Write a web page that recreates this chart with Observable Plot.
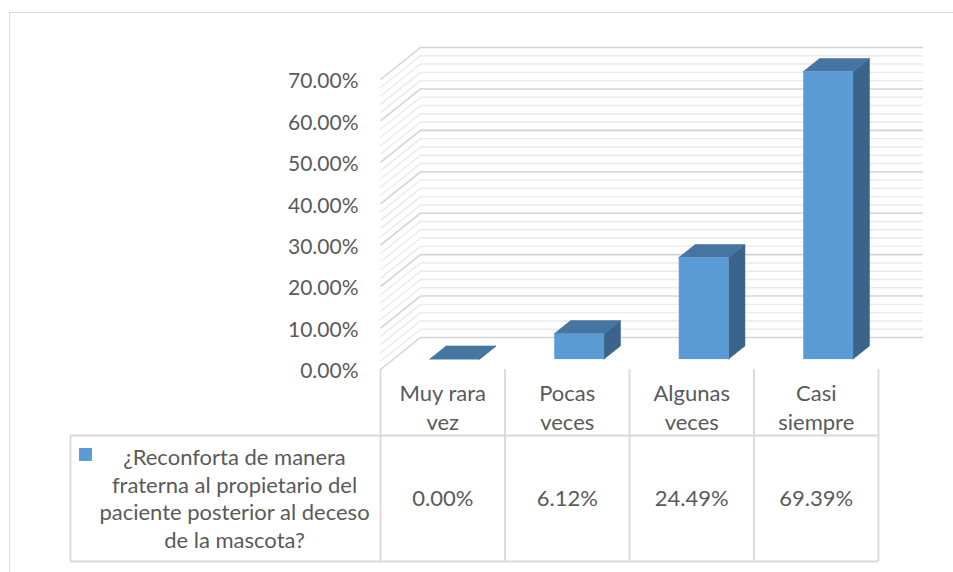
<!DOCTYPE html>
<html><head><meta charset="utf-8">
<script src="https://cdn.jsdelivr.net/npm/d3@7"></script>
<script src="https://cdn.jsdelivr.net/npm/@observablehq/plot@0.6"></script>
<style>
html,body{margin:0;padding:0;background:#fff;}
#wrap{position:relative;width:953px;height:572px;overflow:hidden;}
#frame{position:absolute;left:9px;top:12px;right:-5px;bottom:-5px;border-left:1.5px solid #d9d9d9;border-top:1.5px solid #d9d9d9;pointer-events:none;}
#wrap svg{position:absolute;left:0;top:0;}
</style></head><body>
<div id="wrap"><div id="frame"></div></div>
<script>
// ---- data ----
const categories = ["Muy rara\nvez", "Pocas\nveces", "Algunas\nveces", "Casi\nsiempre"];
const values = [0.00, 6.12, 24.49, 69.39];
const yTicks = [0, 10, 20, 30, 40, 50, 60, 70];
const seriesName = "¿Reconforta de manera\nfraterna al propietario del\npaciente posterior al deceso\nde la mascota?";

// ---- layout (styles) ----
const W = 953, H = 572;
const left = 380, right = 878, y0 = 369, yTop = 79;
const PX = (right - left) / 4;        // px per category unit
const PY = (y0 - yTop) / 70;          // px per percent
const DX = 40 / PX, DY = 32 / PY;     // wall depth in data units
const fb = 0.31, bb = 0.72;           // bar front/back depth fractions
const BW = 0.2;                        // half bar width (category units)
const font = "Lato, sans-serif";
const txt = "#5a5a5a";

const minor = d3.range(0, 70.001, 2).filter(v => v % 10 !== 0);
const major = yTicks;
const xEnd = 3.5 + 5 / PX;
const XL = -0.5 - 310 / PX;            // table left edge
const rowTop = -(435 - y0) / PY, rowBot = -(561 - y0) / PY;

const sideData = values.flatMap((v, i) => [
  {i, x: i + BW + fb * DX, y1: fb * DY, y2: v + fb * DY},
  {i, x: i + BW + bb * DX, y1: bb * DY, y2: v + bb * DY}
]);
const topData = values.flatMap((v, i) => [
  {i, y: v + fb * DY, x1: i - BW + fb * DX, x2: i + BW + fb * DX},
  {i, y: v + bb * DY, x1: i - BW + bb * DX, x2: i + BW + bb * DX}
]);

const chart = Plot.plot({
  width: W, height: H,
  marginLeft: left, marginRight: W - right, marginTop: yTop, marginBottom: H - y0,
  x: {domain: [-0.5, 3.5], axis: null},
  y: {domain: [0, 70]},
  style: {fontFamily: font, fontSize: "22px", color: txt, background: "transparent", overflow: "visible"},
  marks: [
    // back wall + side wall gridlines
    Plot.ruleY(minor, {y: d => d + DY, x1: () => -0.5 + DX, x2: () => xEnd + DX, stroke: "#eaeaea", strokeWidth: 1.4}),
    Plot.link(minor, {x1: () => -0.5, y1: d => d, x2: () => -0.5 + DX, y2: d => d + DY, stroke: "#eaeaea", strokeWidth: 1.4}),
    Plot.ruleY(major, {y: d => d + DY, x1: () => -0.5 + DX, x2: () => xEnd + DX, stroke: "#d4d4d4", strokeWidth: 1.6}),
    Plot.link(major, {x1: () => -0.5, y1: d => d, x2: () => -0.5 + DX, y2: d => d + DY, stroke: "#d4d4d4", strokeWidth: 1.6}),
    // data table grid
    Plot.ruleX([-0.5, 0.5, 1.5, 2.5, 3.5], {y1: () => 0, y2: () => rowBot, stroke: "#d9d9d9", strokeWidth: 1.8}),
    Plot.ruleX([XL], {y1: () => rowTop, y2: () => rowBot, stroke: "#d9d9d9", strokeWidth: 1.8}),
    Plot.ruleY([rowTop, rowBot], {x1: () => XL, x2: () => 3.5, stroke: "#d9d9d9", strokeWidth: 1.8}),
    // 3D bars
    Plot.areaY(sideData, {x: "x", y1: "y1", y2: "y2", z: "i", fill: "#3a6489", stroke: "#3a6489", strokeWidth: 0.6}),
    Plot.areaX(topData, {y: "y", x1: "x1", x2: "x2", z: "i", fill: "#4675a2", stroke: "#4675a2", strokeWidth: 0.6}),
    Plot.rect(values, {x1: (d, i) => i - BW + fb * DX, x2: (d, i) => i + BW + fb * DX, y1: () => fb * DY, y2: d => d + fb * DY, fill: "#5b9bd5"}),
    // y axis
    Plot.axisY(yTicks, {tickSize: 0, tickPadding: 22, tickFormat: d => d.toFixed(2) + "%", fill: txt, fontSize: 21, dy: 2}),
    // category header
    Plot.text(categories, {x: (d, i) => i, y: () => 0, dy: 37, text: d => d, lineAnchor: "middle", lineHeight: 1.3, fill: txt}),
    // values row
    Plot.text(values, {x: (d, i) => i, y: () => 0, dy: 129, text: d => d.toFixed(2) + "%", lineAnchor: "middle", fill: txt}),
    // series name + key
    Plot.text([seriesName], {x: () => -0.5, y: () => 0, dx: -146, dy: 128, text: d => d, lineAnchor: "middle", lineHeight: 1.26, fill: txt}),
    Plot.dot([seriesName], {x: () => -0.5, y: () => 0, dx: -(380 - 85), dy: 454 - 369, symbol: "square", r: 7.3, fill: "#5b9bd5", stroke: "none"})
  ]
});
document.getElementById("wrap").appendChild(chart);
</script>
</body></html>
